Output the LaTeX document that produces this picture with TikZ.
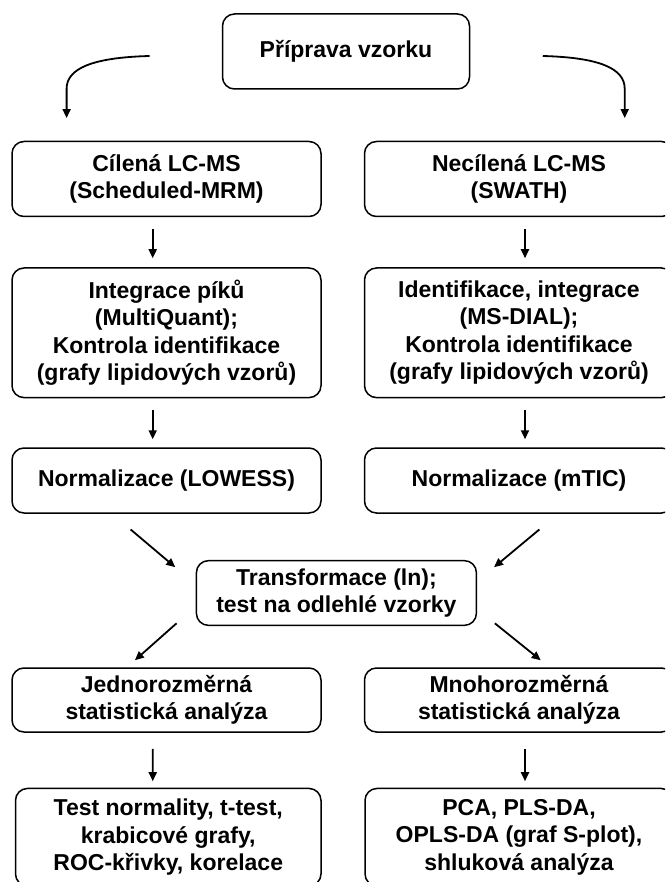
\documentclass[tikz,border=0pt]{standalone}
\usepackage{fontspec}
\setmainfont{Liberation Sans}
\usetikzlibrary{arrows.meta}
\begin{document}
\begin{tikzpicture}[x=1pt,y=-1pt,
  box/.style={draw, rounded corners=12pt, line width=1.5pt, inner sep=0pt, align=center,
    font=\fontsize{23}{27.5}\selectfont\bfseries},
  arr/.style={line width=1.8pt, -{Triangle[length=9pt,width=8pt]}}]
\useasboundingbox (0,0) rectangle (665,882);
\clip (0,0) rectangle (665,882);
% nodes
\node[box, minimum width=247pt, minimum height=75pt] (top) at (346,51.5) {Příprava vzorku};
\node[box, minimum width=309pt, minimum height=75pt] (a1) at (166.5,179) {Cílená LC-MS\\(Scheduled-MRM)};
\node[box, minimum width=309pt, minimum height=75pt] (b1) at (519,179) {Necílená LC-MS\\(SWATH)};
\node[box, minimum width=309pt, minimum height=129.6pt] (a2) at (166.5,332.8) {Integrace píků\\(MultiQuant);\\Kontrola identifikace\\(grafy lipidových vzorů)};
\node[box, minimum width=309pt, minimum height=129.6pt] (b2) at (519,332.8) {Identifikace, integrace\\(MS-DIAL);\\Kontrola identifikace\\(grafy lipidových vzorů)};
\node[box, minimum width=309pt, minimum height=65pt] (a3) at (166.5,480.5) {Normalizace (LOWESS)};
\node[box, minimum width=309pt, minimum height=65pt] (b3) at (519,480.5) {Normalizace (mTIC)};
\node[box, minimum width=280pt, minimum height=64.7pt] (tr) at (336.4,593) {Transformace (ln);\\test na odlehlé vzorky};
\node[box, minimum width=309pt, minimum height=64pt] (a4) at (166.5,700) {Jednorozměrná\\statistická analýza};
\node[box, minimum width=309pt, minimum height=64pt] (b4) at (519,700) {Mnohorozměrná\\statistická analýza};
\node[box, minimum width=305.5pt, minimum height=97.5pt] (a5) at (168.25,837.2) {Test normality, t-test,\\krabicové grafy,\\ROC-křivky, korelace};
\node[box, minimum width=308pt, minimum height=97.5pt] (b5) at (519,837.2) {PCA, PLS-DA,\\OPLS-DA (graf S-plot),\\shluková analýza};
% curved arrows from the top box
\draw[arr] ([shift={(-72.1,4.5)}]top.west) .. controls ([shift={(-130,6)}]top.west) and ([shift={(-99.9,-72)}]a1.north) .. ([shift={(-99.9,-52)}]a1.north) -- ([shift={(-99.9,-22.7)}]a1.north);
\draw[arr] ([shift={(72.5,4.5)}]top.east) .. controls ([shift={(130,6)}]top.east) and ([shift={(105.7,-72)}]b1.north) .. ([shift={(105.7,-52)}]b1.north) -- ([shift={(105.7,-22.7)}]b1.north);
% vertical arrows
\draw[arr] ([shift={(-13.8,11.5)}]a1.south) -- ([shift={(-13.8,-9)}]a2.north);
\draw[arr] ([shift={(6,11.5)}]b1.south) -- ([shift={(6,-9)}]b2.north);
\draw[arr] ([shift={(-13.8,12)}]a2.south) -- ([shift={(-13.8,-8)}]a3.north);
\draw[arr] ([shift={(6,12)}]b2.south) -- ([shift={(6,-8)}]b3.north);
\draw[arr] ([shift={(-13.8,16)}]a4.south) -- ([shift={(-15.5,-6.5)}]a5.north);
\draw[arr] ([shift={(6,16)}]b4.south) -- ([shift={(6,-6.5)}]b5.north);
% diagonal arrows
\draw[arr] ([shift={(-35.9,15.7)}]a3.south) -- ([shift={(-20.4,7.3)}]tr.north west);
\draw[arr] ([shift={(20.4,15.7)}]b3.south) -- ([shift={(16.9,7.3)}]tr.north east);
\draw[arr] ([shift={(-19.1,-2.8)}]tr.south west) -- ([shift={(-31.6,-7)}]a4.north);
\draw[arr] ([shift={(17.7,-2.8)}]tr.south east) -- ([shift={(21.7,-7)}]b4.north);
\end{tikzpicture}
\end{document}
